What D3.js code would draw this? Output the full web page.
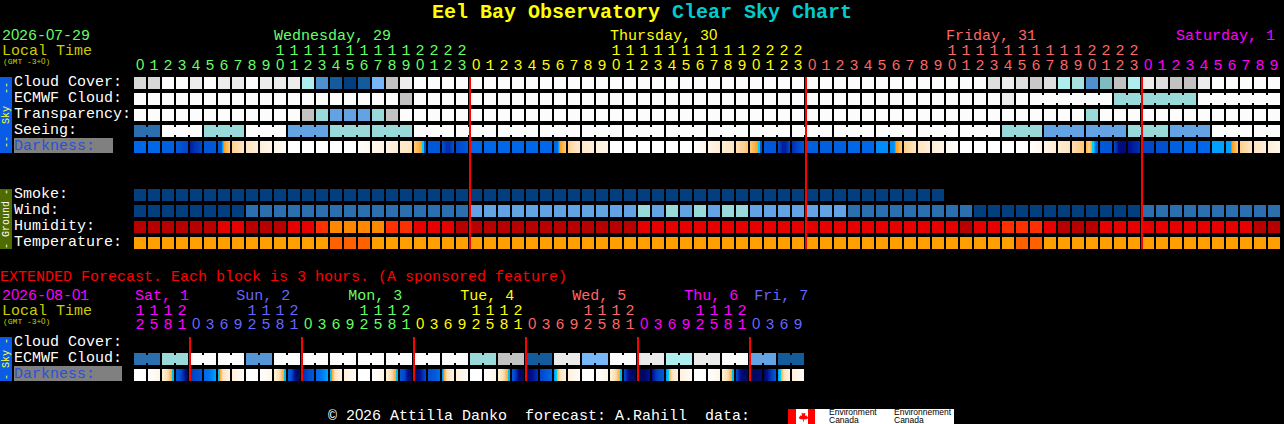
<!DOCTYPE html>
<html><head><meta charset="utf-8">
<script src="https://cdn.jsdelivr.net/npm/d3@7"></script>
<style>
@font-face{font-family:PlainZero;src:local("Liberation Sans");unicode-range:U+30;}
html,body{margin:0;padding:0;background:#000;overflow:hidden}
svg{display:block}
text{font-family:PlainZero,"Liberation Mono",monospace;font-size:15px;white-space:pre}
</style></head><body>
<script>
// ---------- data ----------
const title=["Eel Bay Observatory ","Clear Sky Chart"];
const mainHours=[0,1,2,3,4,5,6,7,8,9,10,11,12,13,14,15,16,17,18,19,20,21,22,23,0,1,2,3,4,5,6,7,8,9,10,11,12,13,14,15,16,17,18,19,20,21,22,23,0,1,2,3,4,5,6,7,8,9,10,11,12,13,14,15,16,17,18,19,20,21,22,23,0,1,2,3,4,5,6,7,8,9];
const mainDayOfCell=[0,0,0,0,0,0,0,0,0,0,0,0,0,0,0,0,0,0,0,0,0,0,0,0,1,1,1,1,1,1,1,1,1,1,1,1,1,1,1,1,1,1,1,1,1,1,1,1,2,2,2,2,2,2,2,2,2,2,2,2,2,2,2,2,2,2,2,2,2,2,2,2,3,3,3,3,3,3,3,3,3,3];
const mainDays=["Wednesday, 29","Thursday, 30","Friday, 31","Saturday, 1"];
const mainDayX=[10,34,58,74.43];
const mainDividers=[24,48,72];
const cloudCover=[15,15,0,0,8,0,8,8,0,8,8,8,30,70,90,100,90,50,20,8,0,0,0,0,0,0,0,0,0,0,0,0,0,0,0,0,0,0,0,0,0,0,0,0,0,0,0,0,0,0,0,0,0,0,0,0,0,0,0,0,0,12,8,12,18,12,30,35,70,45,20,30,8,12,20,20,8,0,0,0,0,0];
const ecmwfCloud=[0,0,0,0,0,0,0,0,0,0,0,0,0,0,0,0,0,0,0,20,0,0,0,0,0,0,0,0,0,0,0,0,0,0,0,0,0,0,0,0,0,0,0,0,0,0,0,0,0,0,0,0,0,0,0,0,0,0,0,0,0,0,8,0,0,0,0,0,0,0,40,40,40,40,40,40,0,0,0,0,0,0];
const ecmwfGroups=[[64,69],[70,75],[76,81]];
const transparency=[0,0,0,0,0,0,0,0,0,0,0,0,20,40,60,60,60,40,20,0,0,0,0,0,0,0,0,0,0,0,0,0,0,0,0,0,0,0,0,0,0,0,0,0,0,0,0,0,0,0,0,0,0,0,0,0,0,0,0,0,0,0,0,0,0,0,0,0,40,0,0,0,0,0,0,0,0,0,0,0,0,0];
const seeing=[80,80,0,0,0,40,40,40,0,0,0,60,60,60,40,40,40,40,40,40,0,0,0,0,0,0,0,0,0,0,0,0,0,0,0,0,0,0,0,0,0,0,0,0,0,0,0,0,0,0,0,0,0,0,0,0,0,0,0,0,0,0,40,40,40,60,60,60,60,60,60,40,40,40,60,60,60,0,0,0,0,0];
const seeingGroups=[[0,1],[2,4],[5,7],[8,10],[11,13],[14,16],[17,19],[20,22],[23,25],[26,28],[29,31],[32,34],[35,37],[38,40],[41,43],[44,46],[47,49],[50,52],[53,55],[56,58],[59,61],[62,64],[65,67],[68,70],[71,73],[74,76],[77,79],[80,81]];
const smoke=[100,100,100,100,100,100,100,100,100,100,100,100,100,100,100,100,100,100,100,100,100,100,100,100,100,100,100,100,100,100,100,100,100,100,100,100,100,100,100,100,100,100,100,100,100,100,100,100,100,100,100,100,100,100,100,100,100,100];
const wind=[100,100,100,100,100,100,100,100,80,80,80,80,80,80,80,80,80,80,80,80,80,80,80,80,60,60,60,60,60,60,60,60,60,60,60,60,40,60,40,60,40,60,40,40,60,60,60,60,60,60,60,80,80,80,80,80,80,80,80,80,100,100,100,100,100,100,100,100,100,100,100,100,80,80,80,80,80,80,80,80,80,80];
const humidity=[0,0,0,0,0,0,1,1,0,0,0,1,1,2,3,3,3,3,2,2,1,1,1,0,0,0,0,0,0,0,0,0,0,0,0,0,1,1,1,1,1,1,1,1,1,1,1,1,1,1,1,1,1,1,1,1,1,1,1,0,1,1,2,2,2,1,0,0,0,1,1,1,1,1,1,1,1,1,1,1,0,0];
const temperature=[0,0,0,0,0,0,0,0,0,0,0,0,0,0,1,1,1,0,0,0,0,0,0,0,0,0,0,0,0,0,0,0,0,0,0,0,0,0,0,0,0,0,0,0,0,0,0,0,0,0,0,0,0,0,0,0,0,0,0,0,0,0,0,1,1,0,0,0,0,0,0,0,0,0,0,0,0,0,0,0,0,0];
// each cell's darkness samples, read left to right (0 daylight ... 15 deep night)
const darkness=[[10],[10],[10.5],[11,12],[13.5,12],[11],[11,11,11,11,8,7,6,5.5,5,5,4.6,4.2],[4,3.4,3],[3,2.5,2],[2,1.4,1],[1,.5],[0],[0],[0],[0],[0],[.1,.8],[.9,1.3],[1.5,2.2],[2.4,3],[4.4,4.6,4.8,5,5.2,5.5,5.8,6,7,7,11,11],[11],[11.5,13,13,11.5],[12,11],[10],[10],[10],[10],[10],[10],[10,10,10,10,8,7,6,5.6,5.2,5,4.8,4.4],[4,3.2,2.8],[2.6,2],[1.8,1.2],[0],[0],[0],[0],[0],[0],[0,1],[1.2,2],[2.2,3],[3.2,4.4],[4.4,4.6,4.8,5,5.2,5.5,5.8,6,7,7,11,11],[11],[12,13.5,13.5,12],[13,11],[10.5],[10.5],[10.5],[10],[10],[8.5],[8.5,8.5,8.5,8.5,8,7,6,5.8,5.4,5,4.8,4.4],[4,3],[3,2],[2,1.2],[.8,0],[0],[0],[0],[0],[0],[0,1],[1.2,2],[2.2,3],[3.4,4.4],[5,4.6,4.2,4,5,5.5,7,7,8,9,10,10],[11],[12,14,14.5,14.5],[14,13],[12],[11.5],[10.5],[10],[10],[8],[8,8,8,8,8,7,6,5.6,5.2,5,4.6,4.2],[4,3],[3,2],[2,1]];
const extHours=[12,15,18,21,0,3,6,9,12,15,18,21,0,3,6,9,12,15,18,21,0,3,6,9,12,15,18,21,0,3,6,9,12,15,18,21,0,3,6,9,12,15,18,21,0,3,6,9];
const extDayOfCell=[3,3,3,3,4,4,4,4,4,4,4,4,5,5,5,5,5,5,5,5,1,1,1,1,1,1,1,1,2,2,2,2,2,2,2,2,3,3,3,3,3,3,3,3,4,4,4,4];
const extDays=["Sat, 1","Sun, 2","Mon, 3","Tue, 4","Wed, 5","Thu, 6","Fri, 7"];
const extDayX=[0.07,7.3,15.3,23.3,31.3,39.3,44.3];
const extDayColor=[3,4,5,1,2,3,4];
const extDividers=[4,12,20,28,36,44];
const extEcmwf=[80,80,40,40,0,0,0,0,65,65,0,0,0,0,0,0,0,0,0,0,0,0,0,0,40,40,20,20,90,90,10,10,50,50,0,0,10,10,30,30,10,10,0,0,60,60,90,90];
const extDarkness=[[0],[0,1],[2,2,2.5,3,3,3.5,4,4.5,5,5.5,7.4,7.6],[11,11,12,13,14,15],[12.5,11],[10,9,8],[7.4,7,5.5,4.5,3.5,3,2.6,2.4,2.2,2,1.8,1.6],[1.6,0.4],[0],[0,1],[2,2,2.5,3,3,3.5,4,4.5,5,5.5,7.4,7.6],[11,11,13,14,15,15],[13,11],[10,9,8],[7.4,7,5.5,4.5,3.5,3,2.6,2.4,2.2,2,1.8,1.6],[1.6,.4],[0],[0,1],[2,2,2.5,3,3,3.5,4,4.5,5,5.5,7.4,7.6],[11,12,14,15],[15,14,12],[11.5,11,10],[8,7,5.5,4.5,3.5,3,2.6,2.4,2.2,2,1.8,1.6],[1.6,.4],[0],[0,1],[2,2,2.5,3,3,3.5,4,4.5,5,5.5,7.4,7.6],[11,13,15,15],[15,14,13],[12,11,10],[8,7.4,7,5.5,4.5,3.5,3,2.6,2.4,2.2,2,1.8],[1.6,.4],[0],[0,1],[2,2,2.5,3,3,3.5,4,4.5,5,5.5,7.4,7.6],[12,14,15,15],[15,15,14],[14,12,11],[8,7.4,7,5.5,4.5,3.5,3,2.6,2.4,2.2,2,1.8],[1.6,.4],[0],[0,1],[2,2,2.5,3,3,3.5,4,4.5,5,5.5,7.4,7.6],[12,14,15,15],[15,15,14.5],[15,13,11],[8,7.4,7,5.5,4.5,3.5,3,2.6,2.4,2.2,2,1.8],[1.6,.4]];
const rowLabels=["Cloud Cover:","ECMWF Cloud:","Transparency:","Seeing:"];
const groundLabels=["Smoke:","Wind:","Humidity:","Temperature:"];
const extLabels=["Cloud Cover:","ECMWF Cloud:"];

// ---------- scales ----------
const skyScale=d3.scaleOrdinal()
  .domain([0,5,8,10,12,15,18,20,30,35,40,45,50,60,65,70,80,90,100])
  .range(["#fcfcfc","#f4f4f4","#ececec","#eaeaea","#dedede","#d8d8d8","#c8c8c8","#c2c2c2","#aeeeee","#a6e2e2","#99d9d9","#7fbcc0","#77b7f7","#63a3e3","#5596d6","#4f8fcf","#2c6faf","#135b9b","#033f7f"]);
const humScale=d3.scaleOrdinal().domain([0,1,2,3]).range(["#b80000","#e60000","#ff3000","#ff8800"]);
const tempScale=d3.scaleOrdinal().domain([0,1]).range(["#ffa000","#ff6000"]);
const darkScale=d3.scaleLinear()
  .domain([0,1,2,3,4,5,6,7,8,9,10,11,12,13,14,15])
  .range(["#ffffff","#fff6ea","#ffeed6","#ffe4c0","#ffd090","#ffb850","#ffa020","#00d0f0","#00a0ff","#0078f0","#0068e8","#0058d8","#0048c8","#0030b0","#000f90","#000860"]);
const dayColor=["#66ff66","#ffff00","#ff6666","#ff00ff","#6666ff","#66ff66"];
const pitch=14, cw=12, x0=134;
const x=d3.scaleLinear().domain([0,1]).range([x0,x0+pitch]);
const yRow=d3.scaleLinear().domain([0,1]).range([77,93]);
const yGround=d3.scaleLinear().domain([0,1]).range([189,205]);
const yExt=d3.scaleLinear().domain([0,1]).range([337,353]);

const svg=d3.select("body").append("svg").attr("width",1284).attr("height",424).attr("viewBox","0 0 1284 424");
svg.append("rect").attr("width",1284).attr("height",424).attr("fill","#000");
const T=(s,px,py,fill,size,extra)=>{const t=svg.append("text").attr("x",px).attr("y",py).attr("fill",fill).text(s);if(size)t.style("font-size",size+"px");return t;};

// title
const tt=svg.append("text").attr("x",432).attr("y",18).style("font-size","20px").style("font-weight","bold");
tt.append("tspan").attr("fill","#ffff00").text(title[0]);
tt.append("tspan").attr("fill","#00cccc").text(title[1]);

// header blocks
function header(date,dateColor,yD,yL,yG){
  T(date,2,yD,dateColor);
  T("Local Time",2,yL,"#cccc00");
  T("(GMT -3+0)",3,yG,"#cccc00",8);
}
header("2026-07-29",dayColor[0],40,55,64);
header("2026-08-01",dayColor[3],300,315,324);

function digits(hours,days,yTens,yOnes){
  const g=svg.append("g").attr("text-anchor","middle");
  hours.forEach((h,i)=>{
    const c=dayColor[days[i]], cx=x(i)+6;
    g.append("text").attr("x",cx).attr("y",yOnes).attr("fill",c).text(h%10);
    if(h>=10) g.append("text").attr("x",cx).attr("y",yTens).attr("fill",c).text(Math.floor(h/10));
  });
}
digits(mainHours,mainDayOfCell,55,70);
digits(extHours,extDayOfCell,315,329);
mainDays.forEach((d,i)=>T(d,x(mainDayX[i]),40,dayColor[i]));
extDays.forEach((d,i)=>T(d,x(extDayX[i]),300,dayColor[extDayColor[i]]));

// cells
const cells=svg.append("g").attr("shape-rendering","crispEdges");
function row(vals,y,color,groups){
  cells.selectAll(null).data(vals).enter().append("rect")
    .attr("x",(d,i)=>x(i)).attr("y",y).attr("width",cw).attr("height",cw).attr("fill",d=>color(d));
  (groups||[]).forEach(([a,b])=>{
    for(let i=a;i<b;i++) cells.append("rect").attr("x",x(i)+cw).attr("y",y+2).attr("width",pitch-cw).attr("height",cw-4).attr("fill",color(vals[i]));
  });
}
function darkRow(vals,y){
  vals.forEach((samples,i)=>{
    const p=d3.scaleLinear().domain(d3.range(samples.length).map(k=>samples.length>1?k*(cw-1)/(samples.length-1):0)).range(samples);
    d3.range(cw).forEach(k=>{
      const v=samples.length>1?p(k):samples[0];
      cells.append("rect").attr("x",x(i)+k).attr("y",y).attr("width",1).attr("height",cw).attr("fill",darkScale(v));
    });
  });
}
row(cloudCover,yRow(0),skyScale);
row(ecmwfCloud,yRow(1),skyScale,ecmwfGroups);
row(transparency,yRow(2),skyScale);
row(seeing,yRow(3),skyScale,seeingGroups);
darkRow(darkness,yRow(4));
row(smoke,yGround(0),skyScale);
row(wind,yGround(1),skyScale);
row(humidity,yGround(2),humScale);
row(temperature,yGround(3),tempScale);
const extPairs=d3.range(0,48,2).map(i=>[i,i+1]);
row(extEcmwf,yExt(1),skyScale,extPairs);
darkRow(extDarkness,yExt(2));

// dividers
const divs=svg.append("g").attr("shape-rendering","crispEdges").attr("fill","#ff0000");
mainDividers.forEach(i=>divs.append("rect").attr("x",x(i)-1).attr("y",77).attr("width",2).attr("height",172));
extDividers.forEach(i=>divs.append("rect").attr("x",x(i)-1).attr("y",337).attr("width",2).attr("height",44));

// row labels
rowLabels.forEach((s,i)=>T(s,14,yRow(i)+9,"#fff"));
groundLabels.forEach((s,i)=>T(s,14,yGround(i)+9,"#fff"));
extLabels.forEach((s,i)=>T(s,14,yExt(i)+9,"#fff"));
const darkLabel="Darkness:";
svg.append("rect").attr("x",14).attr("y",138).attr("width",99).attr("height",15).attr("fill","#808080");
T(darkLabel,14,150,"#2a50d8");
svg.append("rect").attr("x",14).attr("y",366).attr("width",108).attr("height",15).attr("fill","#808080");
T(darkLabel,14,378,"#2a50d8");

// side bars
function side(y0,y1,bg,fg,s){
  svg.append("rect").attr("x",0).attr("y",y0).attr("width",12).attr("height",y1-y0).attr("fill",bg);
  svg.append("text").attr("transform",`translate(9,${(y0+y1)/2}) rotate(-90)`).attr("text-anchor","middle").attr("fill",fg).style("font-size","10px").text(s);
}
side(77,153,"#0a5ce6","#ffff40","--  Sky  --");
side(189,249,"#4f6b00","#ffffff","- Ground -");
side(337,381,"#0a5ce6","#ffff40","- Sky -");

// extended note + footer
T("EXTENDED Forecast. Each block is 3 hours. (A sponsored feature)",0,281,"#ff0000");
T("\u00a9 2026 Attilla Danko  forecast: A.Rahill  data:",328,420,"#ffffff");
const logo=svg.append("g");
logo.append("rect").attr("x",788).attr("y",409).attr("width",166).attr("height",15).attr("fill","#fff");
logo.append("rect").attr("x",788).attr("y",409).attr("width",8).attr("height",15).attr("fill","#f00");
logo.append("rect").attr("x",808).attr("y",409).attr("width",7).attr("height",15).attr("fill","#f00");
logo.append("path").attr("d","M802 411l1.5 2.5 2-.8-.6 3.3 1.6-.7 .6 1.4 1.2 0-.9 2.2-3.6.5.2 2h-1l.2-2-3.6-.5-.9-2.2 1.2 0 .6-1.4 1.6.7-.6-3.3 2 .8z").attr("fill","#f00");
[["Environment",829,415],["Canada",829,423],["Environnement",894,415],["Canada",894,423]].forEach(([s,a,b])=>{
  svg.append("text").attr("x",a).attr("y",b).attr("fill","#000").style("font-family","'Liberation Sans'").style("font-size","8.5px").text(s);
});
</script>
</body></html>
